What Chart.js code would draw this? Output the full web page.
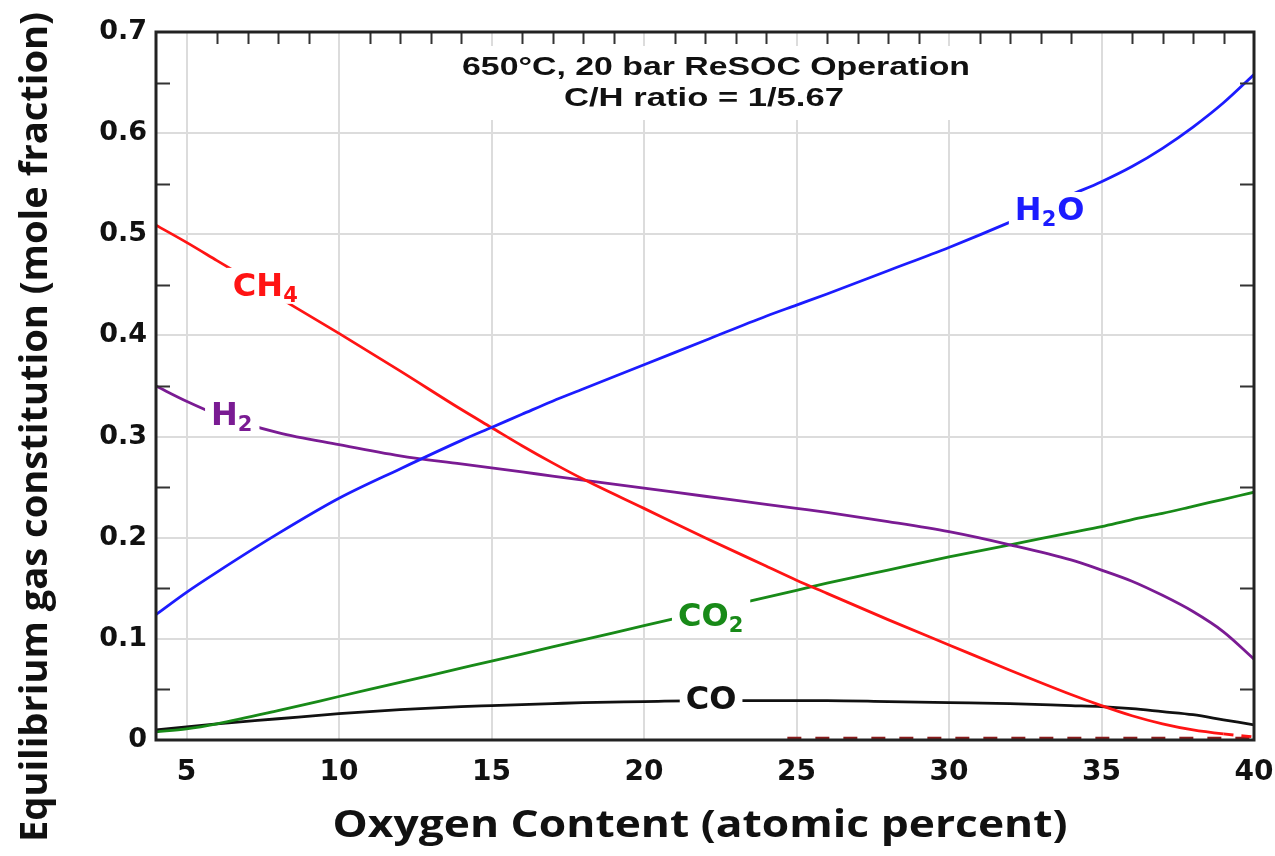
<!DOCTYPE html>
<html>
<head>
<meta charset="utf-8">
<script src="https://cdn.jsdelivr.net/npm/chart.js@4.4.0/dist/chart.umd.min.js"></script>
<style>
  body { margin: 0; background: #fff; }
</style>
</head>
<body>
<canvas id="graph" width="1275" height="856"></canvas>
<script>
// oxygen content (atomic percent) where the curves were read
const oxygen = [4, 5, 6, 8, 10, 12, 14, 15, 16, 17, 18, 20, 22, 24, 25, 26, 28, 30, 32, 34, 35, 36, 37, 38, 39, 40]

// mole fractions
const h2o = [0.124, 0.146, 0.166, 0.204, 0.239, 0.268, 0.296, 0.309, 0.322, 0.335, 0.347, 0.371, 0.395, 0.419, 0.430, 0.441, 0.464, 0.487, 0.512, 0.539, 0.552, 0.567, 0.585, 0.606, 0.630, 0.658]
const ch4 = [0.509, 0.492, 0.474, 0.438, 0.402, 0.365, 0.327, 0.309, 0.291, 0.274, 0.258, 0.229, 0.200, 0.172, 0.158, 0.145, 0.119, 0.094, 0.069, 0.045, 0.034, 0.024, 0.016, 0.010, 0.006, 0.003]
const h2 = [0.350, 0.335, 0.322, 0.304, 0.292, 0.281, 0.273, 0.269, 0.265, 0.261, 0.257, 0.249, 0.241, 0.233, 0.229, 0.225, 0.216, 0.206, 0.193, 0.178, 0.168, 0.157, 0.143, 0.127, 0.107, 0.080]
const co2 = [0.008, 0.011, 0.016, 0.029, 0.043, 0.057, 0.071, 0.078, 0.085, 0.092, 0.099, 0.113, 0.127, 0.141, 0.148, 0.155, 0.168, 0.181, 0.193, 0.205, 0.211, 0.218, 0.224, 0.231, 0.238, 0.245]
const co = [0.010, 0.013, 0.016, 0.021, 0.026, 0.030, 0.033, 0.034, 0.035, 0.036, 0.037, 0.038, 0.039, 0.039, 0.039, 0.039, 0.038, 0.037, 0.036, 0.034, 0.033, 0.031, 0.028, 0.025, 0.020, 0.015]

// dashed trace lying on the x axis at high oxygen
const carbonX = [24.7, 40]
const carbonY = [0.002, 0.002]

const xTicks = [5, 10, 15, 20, 25, 30, 35, 40]
const yTicks = [0, 0.1, 0.2, 0.3, 0.4, 0.5, 0.6, 0.7]

const titleLines = ['650°C, 20 bar ReSOC Operation', 'C/H ratio = 1/5.67']
const xTitle = 'Oxygen Content (atomic percent)'
const yTitle = 'Equilibrium gas constitution (mole fraction)'

// curve labels: main text, subscript, where they sit (x value, y value), colour
const curveLabels = [
    { main: 'CH', sub: '4', x: 7.6, y: 0.450, color: '#ff1414' },
    { main: 'H', sub: '2', x: 6.5, y: 0.322, color: '#7a1b93' },
    { main: 'H', sub: '2', tail: 'O', x: 33.3, y: 0.525, color: '#1c1cff' },
    { main: 'CO', sub: '2', x: 22.2, y: 0.124, color: '#188a18' },
    { main: 'CO', sub: '', x: 22.2, y: 0.0415, color: '#111' }
]

function pts(xs, ys) {
    return xs.map((x, i) => ({ x: x, y: ys[i] }))
}

function line(label, data, color) {
    return {
        label: label,
        data: data,
        borderColor: color,
        borderWidth: 2.8,
        pointRadius: 0,
        cubicInterpolationMode: 'monotone',
        fill: false
    }
}

// draw text squeezed/stretched to a given width
function fitText(ctx, text, cx, cy, width, font, rotate) {
    ctx.save()
    ctx.font = font
    let w = ctx.measureText(text).width
    ctx.translate(cx, cy)
    if (rotate) ctx.rotate(-Math.PI / 2)
    ctx.scale(width / w, 1)
    ctx.textAlign = 'center'
    ctx.textBaseline = 'middle'
    ctx.fillStyle = '#111'
    ctx.fillText(text, 0, 0)
    ctx.restore()
}

const decorations = {
    id: 'decorations',
    beforeDatasetsDraw(chart) {
        let ctx = chart.ctx
        // white box under the title
        ctx.save()
        ctx.fillStyle = '#fff'
        ctx.fillRect(455, 46, 530, 74)
        ctx.restore()
        fitText(ctx, titleLines[0], 716, 68, 508, 'bold 25px "Liberation Sans"')
        fitText(ctx, titleLines[1], 704, 99, 280, 'bold 25px "Liberation Sans"')
    },
    afterDatasetsDraw(chart) {
        let ctx = chart.ctx
        let xs = chart.scales.x, ys = chart.scales.y
        let a = chart.chartArea

        // curve labels on white patches
        curveLabels.forEach(l => {
            ctx.save()
            let big = 'bold 32px "DejaVu Sans"', small = 'bold 21px "DejaVu Sans"'
            ctx.font = big
            let w1 = ctx.measureText(l.main).width
            let w3 = l.tail ? ctx.measureText(l.tail).width : 0
            ctx.font = small
            let w2 = l.sub ? ctx.measureText(l.sub).width + 1 : 0
            let total = w1 + w2 + w3
            let cx = xs.getPixelForValue(l.x), cy = ys.getPixelForValue(l.y)
            let left = cx - total / 2
            ctx.fillStyle = '#fff'
            ctx.fillRect(left - 6, cy - 17, total + 12, 36)
            ctx.fillStyle = l.color
            ctx.textBaseline = 'alphabetic'
            ctx.font = big
            ctx.fillText(l.main, left, cy + 11)
            if (l.sub) {
                ctx.font = small
                ctx.fillText(l.sub, left + w1, cy + 17)
            }
            if (l.tail) {
                ctx.font = big
                ctx.fillText(l.tail, left + w1 + w2, cy + 11)
            }
            ctx.restore()
        })

        // inward minor ticks
        ctx.save()
        ctx.strokeStyle = '#333'
        ctx.lineWidth = 2
        ctx.beginPath()
        for (let v = 0.05; v < 0.7; v += 0.1) {
            let y = Math.round(ys.getPixelForValue(v)) + 0.5
            ctx.moveTo(a.left, y); ctx.lineTo(a.left + 14, y)
            ctx.moveTo(a.right, y); ctx.lineTo(a.right - 14, y)
        }
        for (let v = 5; v < 40; v++) {
            if (v % 5 == 0) continue
            let x = Math.round(xs.getPixelForValue(v)) + 0.5
            ctx.moveTo(x, a.top); ctx.lineTo(x, a.top + 12)
        }
        ctx.stroke()

        // frame
        ctx.strokeStyle = '#222'
        ctx.lineWidth = 3
        ctx.strokeRect(a.left, a.top, a.right - a.left, a.bottom - a.top)
        ctx.restore()

        // axis titles
        fitText(ctx, xTitle, 700, 826, 735, 'bold 38px "Open Sans"')
        fitText(ctx, yTitle, 36, 427, 830, 'bold 38px "Open Sans"', true)
    }
}

const datasets = [
    line('H2O', pts(oxygen, h2o), '#1c1cff'),
    line('CH4', pts(oxygen, ch4), '#ff1414'),
    line('H2', pts(oxygen, h2), '#7a1b93'),
    line('CO2', pts(oxygen, co2), '#188a18'),
    line('CO', pts(oxygen, co), '#111'),
    {
        label: 'C',
        data: pts(carbonX, carbonY),
        borderColor: '#8b1c1c',
        borderWidth: 2.5,
        borderDash: [14, 14],
        pointRadius: 0
    }
]
// CH4 tail is dashed near 40
datasets[1].segment = {
    borderDash: c => c.p0DataIndex >= oxygen.length - 2 ? [10, 8] : undefined
}

new Chart(document.getElementById('graph'), {
    type: 'line',
    data: { datasets: datasets },
    plugins: [decorations],
    options: {
        responsive: false,
        animation: false,
        layout: { padding: { top: 32, right: 21, left: 0, bottom: 0 } },
        plugins: { legend: { display: false }, tooltip: { enabled: false } },
        scales: {
            x: {
                type: 'linear',
                min: 4,
                max: 40,
                afterBuildTicks: s => { s.ticks = xTicks.map(v => ({ value: v })) },
                afterFit: s => { s.height = 116; s.paddingLeft = 0; s.paddingRight = 0 },
                grid: { color: '#dcdcdc', lineWidth: 2, drawTicks: false },
                border: { display: false },
                ticks: {
                    padding: 16,
                    color: '#111',
                    font: { family: 'DejaVu Sans', weight: 'bold', size: 28 }
                }
            },
            y: {
                min: 0,
                max: 0.7,
                afterBuildTicks: s => { s.ticks = yTicks.map(v => ({ value: v })) },
                afterFit: s => { s.width = 156; s.paddingTop = 0; s.paddingBottom = 0 },
                grid: { color: '#dcdcdc', lineWidth: 2, drawTicks: false },
                border: { display: false },
                ticks: {
                    padding: 9,
                    color: '#111',
                    font: { family: 'DejaVu Sans', weight: 'bold', size: 27 },
                    callback: v => v == 0 ? '0' : v.toFixed(1)
                }
            }
        }
    }
});
</script>
</body>
</html>
